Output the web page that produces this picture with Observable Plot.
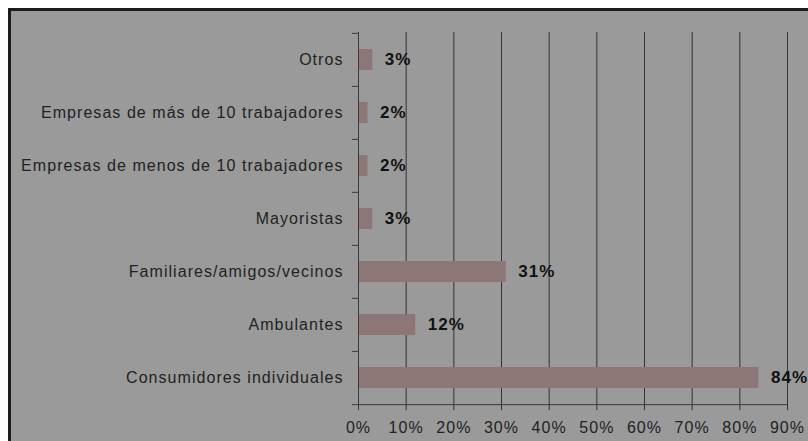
<!DOCTYPE html>
<html>
<head>
<meta charset="utf-8">
<script src="https://cdn.jsdelivr.net/npm/d3@7"></script>
<script src="https://cdn.jsdelivr.net/npm/@observablehq/plot@0.6"></script>
<style>
  html, body { margin: 0; padding: 0; background: #ffffff; }
  #chart { position: relative; width: 808px; height: 441px; overflow: hidden; }
</style>
</head>
<body>
<div id="chart"></div>
<script>
const categories = [
  "Otros",
  "Empresas de más de 10 trabajadores",
  "Empresas de menos de 10 trabajadores",
  "Mayoristas",
  "Familiares/amigos/vecinos",
  "Ambulantes",
  "Consumidores individuales"
];
const values = [3, 2, 2, 3, 31, 12, 84];
const xTicks = [0, 10, 20, 30, 40, 50, 60, 70, 80, 90];

const data = categories.map((c, i) => ({category: c, value: values[i]}));

const W = 797, H = 430;
const mTop = 21, mBottom = 36, mLeft = 347, mRight = 21;
const step = (H - mTop - mBottom) / categories.length;

const chart = Plot.plot({
  width: W,
  height: H,
  marginTop: mTop,
  marginBottom: mBottom,
  marginLeft: mLeft,
  marginRight: mRight,
  style: {
    fontFamily: "'Liberation Sans', Arial, sans-serif",
    fontSize: "16px",
    letterSpacing: "1.05px",
    color: "#1a1a1a",
    background: "#9a9a9a",
    overflow: "visible"
  },
  x: {domain: [0, 90], label: null},
  y: {domain: categories, padding: 0, label: null},
  marks: [
    Plot.ruleX(xTicks.slice(1), {stroke: "#333333", strokeWidth: 1, insetBottom: -5}),
    Plot.barX(data, {x: "value", y: "category", fill: "#8c7676", insetTop: 16, insetBottom: 16}),
    Plot.ruleX([0], {stroke: "#3a3a3a", strokeWidth: 1, insetBottom: -5}),
    Plot.ruleY(categories, {y: d => d, x1: 0, x2: 0, insetLeft: -6, dy: -step / 2, stroke: "#3a3a3a"}),
    Plot.ruleY(categories.slice(-1), {y: d => d, x1: 0, x2: 90, insetLeft: -6, dy: step / 2, stroke: "#3a3a3a"}),
    Plot.axisY({tickSize: 0, tickPadding: 15, fill: "#222222", fontSize: 16}),
    Plot.axisX({ticks: xTicks, tickSize: 0, tickPadding: 16, tickFormat: d => d + "%", fill: "#222222", fontSize: 16}),
    Plot.text(data, {x: "value", y: "category", text: d => d.value + "%", textAnchor: "start", dx: 12, fontWeight: "bold", fontSize: 17, fill: "#111111"})
  ]
});

chart.style.position = "absolute";
chart.style.left = "8px";
chart.style.top = "8px";
chart.style.borderTop = "3px solid #1c1c1c";
chart.style.borderLeft = "3px solid #1c1c1c";
chart.style.maxWidth = "none";
chart.style.background = "#9a9a9a";
document.getElementById("chart").appendChild(chart);
</script>
</body>
</html>
